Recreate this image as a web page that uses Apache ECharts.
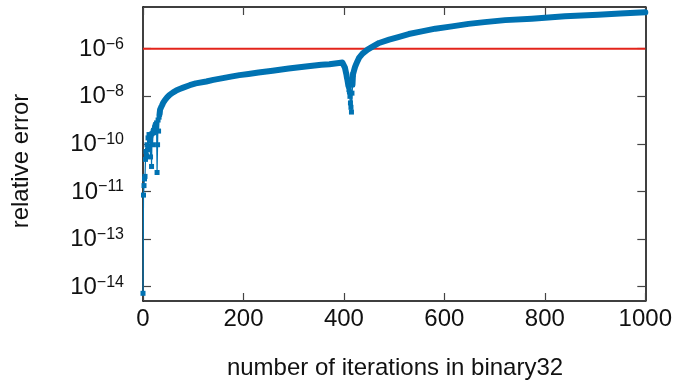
<!DOCTYPE html>
<html><head><meta charset="utf-8">
<script src="https://cdn.jsdelivr.net/npm/echarts@6/dist/echarts.min.js"></script>
<style>html,body{margin:0;padding:0;background:#fff}#c{width:675px;height:380px}</style>
</head><body><div id="c"></div>
<script>
// iteration index and relative error
const iterations = [
  0,1,2,3,4,5,6,7,8,9,10,11,12,13,14,15,16,17,18,19,20,21,22,23,24,25,26,27,28,29,30,31,32,33,34,
  36,38,40,44,48,53,60,66,73,80,93,105,126,140,159,175,192,210,230,258,290,324,355,371,390,397,
  400,402,404,405,406,407,408,409,410,411,412,413,414,415,416,417,418,
  420,422,424,427,430,437,447,457,470,490,510,529,555,582,615,648,680,721,774,840,906,950,1000
];
const relErrors = [
  6.0e-15,1.2e-11,2.5e-11,4.2e-11,5.1e-11,1.9e-10,3.5e-10,2.5e-10,5.9e-10,4.0e-10,1.0e-9,5.0e-10,
  1.3e-9,8.0e-10,1.1e-9,2.3e-10,1.26e-9,1.1e-10,1.4e-9,5.9e-10,1.6e-9,1.8e-9,1.5e-9,2.2e-9,2.5e-9,
  2.8e-9,2.0e-9,3.2e-9,6.9e-11,5.9e-10,4.0e-9,1.7e-9,5.0e-9,6.3e-9,8.9e-9,
  1.07e-8,1.26e-8,1.5e-8,1.9e-8,2.3e-8,2.8e-8,3.4e-8,3.9e-8,4.4e-8,4.9e-8,5.9e-8,6.8e-8,7.9e-8,8.9e-8,
  1.02e-7,1.15e-7,1.29e-7,1.41e-7,1.58e-7,1.82e-7,2.14e-7,2.51e-7,2.88e-7,3.0e-7,3.3e-7,3.4e-7,
  3.2e-7,2.3e-7,1.6e-7,1.35e-7,1.05e-7,8.9e-8,7.9e-8,5.6e-8,4.2e-8,3.5e-8,2.5e-8,1.5e-8,1.07e-8,7.4e-9,
  3.2e-8,6.2e-8,1.35e-7,
  1.8e-7,2.4e-7,2.9e-7,3.8e-7,4.9e-7,6.8e-7,9.3e-7,1.17e-6,1.55e-6,2.0e-6,2.5e-6,3.1e-6,3.8e-6,4.7e-6,
  5.6e-6,6.8e-6,7.8e-6,9.1e-6,1.02e-5,1.23e-5,1.38e-5,1.51e-5,1.66e-5
];
const thresholdIter = [0, 1000];
const thresholdErr = [1e-6, 1e-6];
const xTicks = [0, 200, 400, 600, 800, 1000];
// tick positions (log10 of value) and the exponents printed on them
const yTickPos = [-14, -12.4, -10.8, -9.2, -7.6, -6];
const yTickExp = [-14, -13, -11, -10, -8, -6];

const BLUE = '#0072b2', RED = '#e3241b';
const FONT = '"Liberation Sans", Arial, sans-serif';
const yMin = -14.48, yMax = -4.6;

function pts(lo, hi) {
  const out = [];
  iterations.forEach((x, i) => { if (x >= lo && x <= hi) out.push([x, Math.log10(relErrors[i])]); });
  return out;
}
const threshold = thresholdIter.map((x, i) => [x, Math.log10(thresholdErr[i])]);

function yLabel(v) {
  const i = yTickPos.findIndex(p => Math.abs(p - v) < 1e-6);
  if (i < 0) return '';
  const e = yTickExp[i];
  return '{b|10}{s|' + (e < 0 ? '\u2212' : '') + Math.abs(e) + '}';
}

const axisLine = { show: true, onZero: false, lineStyle: { color: '#000', width: 1.5 } };
const tick = { show: true, inside: true, length: 8, lineStyle: { color: '#444', width: 1.2 } };

const chart = echarts.init(document.getElementById('c'), null, { renderer: 'canvas' });
chart.setOption({
  animation: false,
  backgroundColor: '#fff',
  grid: { left: 143, right: 28, top: 7, bottom: 79, containLabel: false },
  xAxis: [
    { type: 'value', min: xTicks[0], max: xTicks[xTicks.length - 1], interval: 200, position: 'bottom',
      axisLine: axisLine, axisTick: tick, splitLine: { show: false },
      axisLabel: { margin: 6, color: '#111', fontSize: 24, fontFamily: FONT, formatter: v => String(v) } },
    { type: 'value', min: xTicks[0], max: xTicks[xTicks.length - 1], interval: 200, position: 'top',
      axisLine: axisLine, axisTick: tick, splitLine: { show: false }, axisLabel: { show: false } }
  ],
  yAxis: [
    { type: 'value', min: yMin, max: yMax, position: 'left',
      axisLine: axisLine, splitLine: { show: false },
      axisTick: Object.assign({}, tick, { customValues: yTickPos }),
      axisLabel: { customValues: yTickPos, margin: 19, color: '#111', formatter: yLabel,
        rich: {
          b: { fontSize: 24, lineHeight: 25, fontFamily: FONT, color: '#111', verticalAlign: 'bottom' },
          s: { fontSize: 16, lineHeight: 16, fontFamily: FONT, color: '#111', verticalAlign: 'top' }
        } } },
    { type: 'value', min: yMin, max: yMax, position: 'right',
      axisLine: axisLine, splitLine: { show: false },
      axisTick: Object.assign({}, tick, { customValues: yTickPos }),
      axisLabel: { show: false } }
  ],
  series: [
    { type: 'line', data: threshold, showSymbol: false, silent: true,
      lineStyle: { color: RED, width: 2 }, z: 1 },
    { type: 'line', data: pts(0, 33), symbol: 'rect', symbolSize: 5, showSymbol: true,
      itemStyle: { color: BLUE }, lineStyle: { color: BLUE, width: 1.2 }, z: 3 },
    { type: 'line', data: pts(33, 409), showSymbol: false,
      lineStyle: { color: BLUE, width: 6, cap: 'round', join: 'round' }, z: 3 },
    { type: 'line', data: pts(408, 418), symbol: 'rect', symbolSize: 5, showSymbol: true,
      itemStyle: { color: BLUE }, lineStyle: { color: BLUE, width: 1.5 }, z: 3 },
    { type: 'line', data: pts(417, 1000), showSymbol: false,
      lineStyle: { color: BLUE, width: 6, cap: 'round', join: 'round' }, z: 3 }
  ],
  graphic: [
    { type: 'text', x: 395, y: 368, style: { text: 'number of iterations in binary32', fill: '#111',
        font: '24px ' + FONT, align: 'center', verticalAlign: 'middle' } },
    { type: 'text', x: 21, y: 161, rotation: Math.PI / 2, style: { text: 'relative error', fill: '#111',
        font: '24px ' + FONT, align: 'center', verticalAlign: 'middle' } }
  ]
});
</script>
</body></html>
